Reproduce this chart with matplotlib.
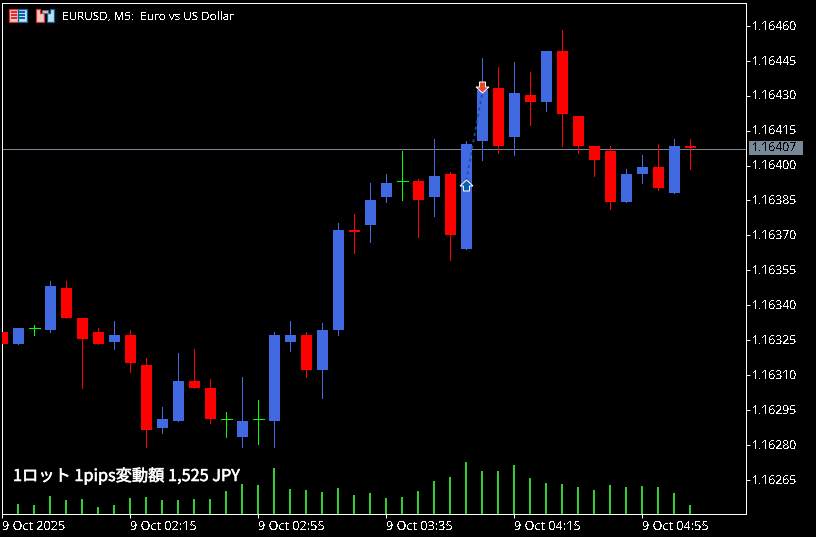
import numpy as np
import matplotlib
matplotlib.use('Agg')
import matplotlib.pyplot as plt
import matplotlib.patheffects as pe
from matplotlib.patches import Rectangle, Polygon
from matplotlib.transforms import Affine2D

# EURUSD M5, prices in points (1e-5)
opens = [116328, 116323, 116330, 116329, 116347, 116334, 116328, 116324, 116327, 116314, 116287,
         116290, 116307, 116304, 116291, 116283, 116291, 116290, 116324, 116327, 116312, 116329,
         116372, 116374, 116386, 116393, 116393, 116386, 116396, 116364, 116410, 116433, 116412,
         116430, 116427, 116449, 116421, 116408, 116406, 116384, 116396, 116399, 116388, 116408]
highs = [116328, 116330, 116331, 116350, 116350, 116334, 116330, 116333, 116329, 116317, 116296,
         116319, 116321, 116308, 116294, 116309, 116299, 116328, 116333, 116328, 116332, 116375,
         116379, 116392, 116396, 116406, 116394, 116411, 116397, 116410, 116446, 116442, 116444,
         116440, 116449, 116458, 116421, 116408, 116408, 116398, 116404, 116409, 116411, 116411]
lows = [116323, 116323, 116327, 116328, 116334, 116304, 116323, 116321, 116311, 116279, 116285,
        116290, 116304, 116289, 116283, 116279, 116280, 116279, 116320, 116309, 116300, 116327,
        116362, 116367, 116384, 116385, 116369, 116378, 116359, 116364, 116402, 116405, 116404,
        116417, 116423, 116408, 116405, 116395, 116381, 116384, 116392, 116389, 116388, 116398]
closes = [116323, 116330, 116330, 116348, 116334, 116325, 116323, 116327, 116315, 116286, 116291,
          116307, 116304, 116291, 116291, 116290, 116291, 116327, 116327, 116312, 116329, 116372,
          116371, 116385, 116392, 116393, 116385, 116395, 116370, 116409, 116432, 116408, 116431,
          116427, 116449, 116422, 116408, 116402, 116384, 116396, 116399, 116390, 116408, 116407]
volumes = [24, 30, 27, 54, 42, 45, 21, 27, 48, 51, 42, 42, 45, 45, 69, 90, 87, 138, 75, 72, 66, 78,
           57, 63, 48, 51, 69, 99, 111, 156, 129, 129, 147, 108, 93, 90, 81, 72, 87, 81, 84, 81, 63, 27]

y_ticks = [116460, 116445, 116430, 116415, 116400, 116385, 116370, 116355, 116340, 116325, 116310,
           116295, 116280, 116265]
x_ticks = [0, 8, 16, 24, 32, 40]
x_labels = ['9 Oct 2025', '9 Oct 02:15', '9 Oct 02:55', '9 Oct 03:35', '9 Oct 04:15', '9 Oct 04:55']
last_price = 116407
trade_bars = [29, 30]
trade_prices = [116393.5, 116431]

BLUE = '#4169E1'
RED = '#FF0000'
LIME = '#00FF00'
VOL = '#32CD32'
GREY = '#778899'
W, H = 816, 537
PX_PER_PT = 2.329
TICK_FONT = 'Noto Sans'

plt.rcParams['text.antialiased'] = False
plt.rcParams['text.hinting'] = 'native'

fig = plt.figure(figsize=(W / 100, H / 100), dpi=100, facecolor='black')
# box is nudged 0.3 px so agg's line snapping lands on the same pixel rows/columns as the reference
left, right, top, bottom = 2.2, 746.2, 2.8, 513.8
tick_y = 25.8
candle_nudge = 0.34  # candles sit a bit under a pixel higher than the tick rows
ax = fig.add_axes([left / W, 1 - bottom / H, (right - left) / W, (bottom - top) / H], facecolor='none', zorder=2)
ax.set_xlim(0, (right - left) / 16)
ax.set_ylim(116460 - (bottom - tick_y) / PX_PER_PT, 116460 + (tick_y - top) / PX_PER_PT)

# volumes on their own overlay, same box, under the frame
ax_v = fig.add_axes(ax.get_position(), facecolor='none', zorder=1)
ax_v.set_xlim(ax.get_xlim())
ax_v.set_ylim(0, (bottom - top) * 3)
ax_v.axis('off')
for i, v in enumerate(volumes):
    ax_v.plot([i, i], [0, v], color=VOL, lw=1.44, solid_capstyle='butt', antialiased=False)

ax.axhline(last_price, color=GREY, lw=0.72, zorder=1, antialiased=False)

for i in range(len(opens)):
    o, h, l, c = [p + candle_nudge for p in (opens[i], highs[i], lows[i], closes[i])]
    color = LIME if o == c else (BLUE if c > o else RED)
    ax.plot([i, i], [l, h], color=color, lw=0.72, solid_capstyle='butt', zorder=2, antialiased=False)
    if o == c:
        ax.plot([i - 0.34, i + 0.34], [o, o], color=color, lw=0.72, solid_capstyle='butt', zorder=2, antialiased=False)
    else:
        ax.bar(i, abs(c - o), bottom=min(o, c), width=0.6875, color=color, zorder=3, antialiased=False)

# trade entry and exit
ax.plot(trade_bars, trade_prices, color='#1450A0', lw=1.3, ls=(0, (1.6, 2)), zorder=4)
up_arrow = np.array([(0, 0), (6.5, 6), (3, 6), (3, 11), (-3, 11), (-3, 6), (-6.5, 6)])
down_arrow = up_arrow * [1, -1]
px_to_fig = Affine2D().scale(1 / W, -1 / H).translate(0, 1) + fig.transFigure
for x0, y0, verts, fc in [(466.5, 180, up_arrow, '#0B5FA8'), (482.5, 93, down_arrow, '#E8482A')]:
    fig.add_artist(Polygon(verts + [x0, y0], closed=True, fc=fc, ec='white', lw=0.72,
                           transform=px_to_fig, zorder=5))

# frame and axes
for side in ['top', 'left', 'right', 'bottom']:
    ax.spines[side].set_color('white')
    ax.spines[side].set_linewidth(0.72)
    ax.spines[side].set_antialiased(False)
ax.yaxis.tick_right()
ax.set_yticks(y_ticks)
ax.set_yticklabels([f'{v / 1e5:.5f}' for v in y_ticks], family=TICK_FONT, fontsize=8.8, color='white')
ax.set_xticks(x_ticks)
ax.set_xticklabels(x_labels, family=TICK_FONT, fontsize=9.1, color='white', ha='left')
ax.tick_params(axis='both', color='white', length=2.9, width=0.72, pad=1.5)

# current price tag
fig.add_artist(Rectangle((749, 141), 54, 14, fc=GREY, ec='none', transform=px_to_fig))
fig.text(752 / W, 1 - 148.5 / H, f'{last_price / 1e5:.5f}', family=TICK_FONT, fontsize=8.8, color='black',
         va='center', ha='left', zorder=6)

# header and info text
fig.text(62 / W, 1 - 21 / H, 'EURUSD, M5:  Euro vs US Dollar', family=TICK_FONT, fontsize=8.4, color='white', va='baseline')
fig.text(13 / W, 1 - 481 / H, '1ロット 1pips変動額 1,525 JPY', family=['Noto Sans CJK JP', 'DejaVu Sans'],
         fontsize=11.7, color='white', va='baseline', antialiased=True,
         path_effects=[pe.withStroke(linewidth=0.4, foreground='white')])

# toolbar icons
fig.add_artist(Rectangle((8.5, 8.5), 9, 13, fc='#F8C8C0', ec='#D83030', lw=0.9, transform=px_to_fig))
fig.add_artist(Rectangle((17.5, 8.5), 9, 13, fc='#B8E0F8', ec='#1060A0', lw=0.9, transform=px_to_fig))
for y0 in [11, 14, 17]:
    fig.add_artist(Rectangle((11, y0), 6, 1.5, fc='#D83030', ec='none', transform=px_to_fig))
    fig.add_artist(Rectangle((19, y0), 6, 1.5, fc='#1060A0', ec='none', transform=px_to_fig))
fig.add_artist(Polygon([(35.5, 8.5), (39.5, 8.5), (39.5, 12.5), (43.5, 12.5), (43.5, 21.5), (35.5, 21.5)],
                       closed=True, fc='#F8C8C0', ec='#D83030', lw=0.9, transform=px_to_fig))
fig.add_artist(Polygon([(53.5, 8.5), (49.5, 8.5), (49.5, 12.5), (46.5, 12.5), (46.5, 21.5), (53.5, 21.5)],
                       closed=True, fc='#B8E0F8', ec='#1060A0', lw=0.9, transform=px_to_fig))
fig.add_artist(Rectangle((41.5, 9.5), 6, 3, fc='#C0C0C0', ec='#707070', lw=0.6, transform=px_to_fig))

fig.savefig('out.png', dpi=100, facecolor='black')
